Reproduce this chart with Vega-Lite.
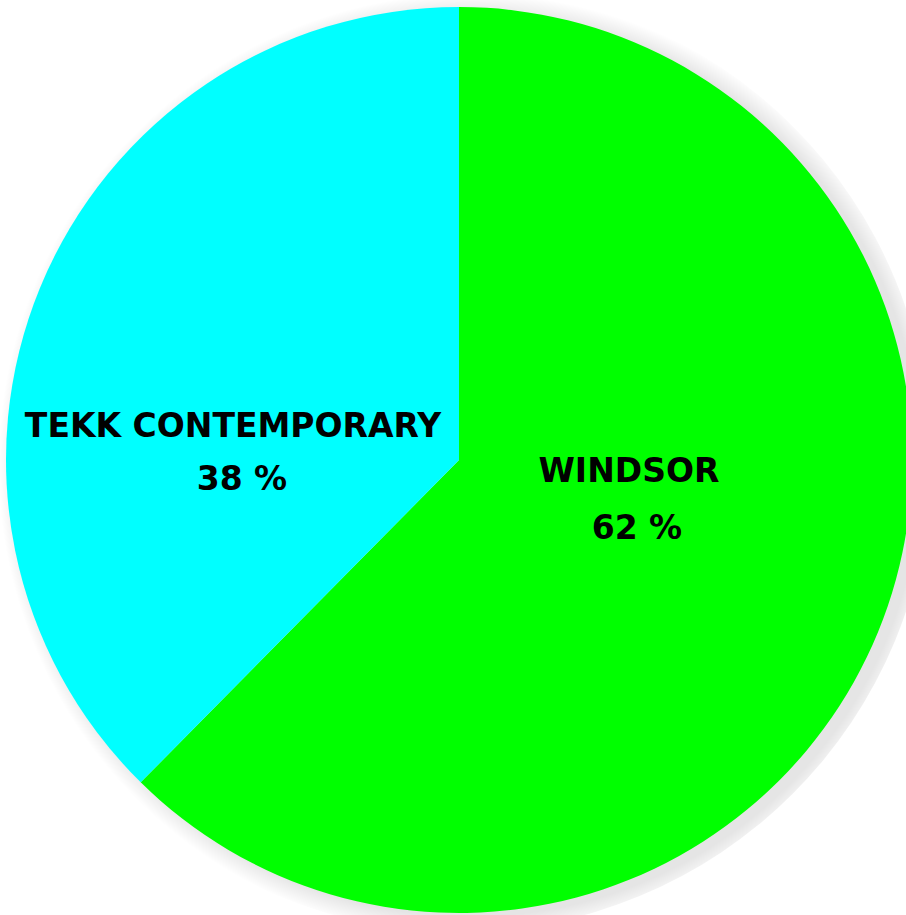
{
  "$schema": "https://vega.github.io/schema/vega-lite/v6.json",
  "width": 894,
  "height": 910,
  "autosize": {"type": "none"},
  "padding": {"left": 12, "top": 5, "right": 0, "bottom": 0},
  "background": "white",
  "config": {"view": {"stroke": null}},
  "data": {
    "values": [
      {"brand": "WINDSOR", "share": 62.4, "pct": "62 %"},
      {"brand": "TEKK CONTEMPORARY", "share": 37.6, "pct": "38 %"}
    ]
  },
  "layer": [
    {
      "transform": [{"aggregate": [{"op": "sum", "field": "share", "as": "total"}]}],
      "mark": {
        "type": "arc",
        "radius": 472,
        "fill": {
          "gradient": "radial",
          "x1": 0.512, "y1": 0.506, "r1": 0,
          "x2": 0.512, "y2": 0.506, "r2": 0.5,
          "stops": [
            {"offset": 0, "color": "rgba(0,0,0,0.10)"},
            {"offset": 0.955, "color": "rgba(0,0,0,0.10)"},
            {"offset": 1, "color": "rgba(0,0,0,0)"}
          ]
        }
      },
      "encoding": {
        "theta": {"field": "total", "type": "quantitative", "scale": {"domain": [0, 100]}}
      }
    },
    {
      "mark": {"type": "arc", "radius": 453},
      "encoding": {
        "theta": {"field": "share", "type": "quantitative", "stack": true, "scale": {"domain": [0, 100]}},
        "order": {"field": "share", "type": "quantitative", "sort": "descending"},
        "color": {
          "field": "brand",
          "type": "nominal",
          "scale": {"domain": ["WINDSOR", "TEKK CONTEMPORARY"], "range": ["#00ff00", "#00ffff"]},
          "legend": null
        }
      }
    },
    {
      "transform": [
        {"stack": "share", "groupby": [], "sort": [{"field": "share", "order": "descending"}], "as": ["s0", "s1"]},
        {"calculate": "(datum.s0 + datum.s1) / 2", "as": "mid"},
        {"filter": "datum.brand === 'WINDSOR'"}
      ],
      "layer": [
        {
          "mark": {"type": "text", "radius": 188, "dx": -4, "dy": -59, "font": "DejaVu Sans", "fontWeight": "bold", "fontSize": 33, "align": "center", "baseline": "middle", "color": "#000000"},
          "encoding": {
            "theta": {"field": "mid", "type": "quantitative", "stack": null, "scale": {"domain": [0, 100]}},
            "text": {"field": "brand"}
          }
        },
        {
          "mark": {"type": "text", "radius": 188, "dx": 4, "dy": -2, "font": "DejaVu Sans", "fontWeight": "bold", "fontSize": 33, "align": "center", "baseline": "middle", "color": "#000000"},
          "encoding": {
            "theta": {"field": "mid", "type": "quantitative", "stack": null, "scale": {"domain": [0, 100]}},
            "text": {"field": "pct"}
          }
        }
      ]
    },
    {
      "transform": [
        {"stack": "share", "groupby": [], "sort": [{"field": "share", "order": "descending"}], "as": ["s0", "s1"]},
        {"calculate": "(datum.s0 + datum.s1) / 2", "as": "mid"},
        {"filter": "datum.brand === 'TEKK CONTEMPORARY'"}
      ],
      "layer": [
        {
          "mark": {"type": "text", "radius": 239.5, "dx": -4.5, "dy": 58, "font": "DejaVu Sans", "fontWeight": "bold", "fontSize": 33, "align": "center", "baseline": "middle", "color": "#000000"},
          "encoding": {
            "theta": {"field": "mid", "type": "quantitative", "stack": null, "scale": {"domain": [0, 100]}},
            "text": {"field": "brand"}
          }
        },
        {
          "mark": {"type": "text", "radius": 239.5, "dx": 4.5, "dy": 111, "font": "DejaVu Sans", "fontWeight": "bold", "fontSize": 33, "align": "center", "baseline": "middle", "color": "#000000"},
          "encoding": {
            "theta": {"field": "mid", "type": "quantitative", "stack": null, "scale": {"domain": [0, 100]}},
            "text": {"field": "pct"}
          }
        }
      ]
    }
  ]
}
